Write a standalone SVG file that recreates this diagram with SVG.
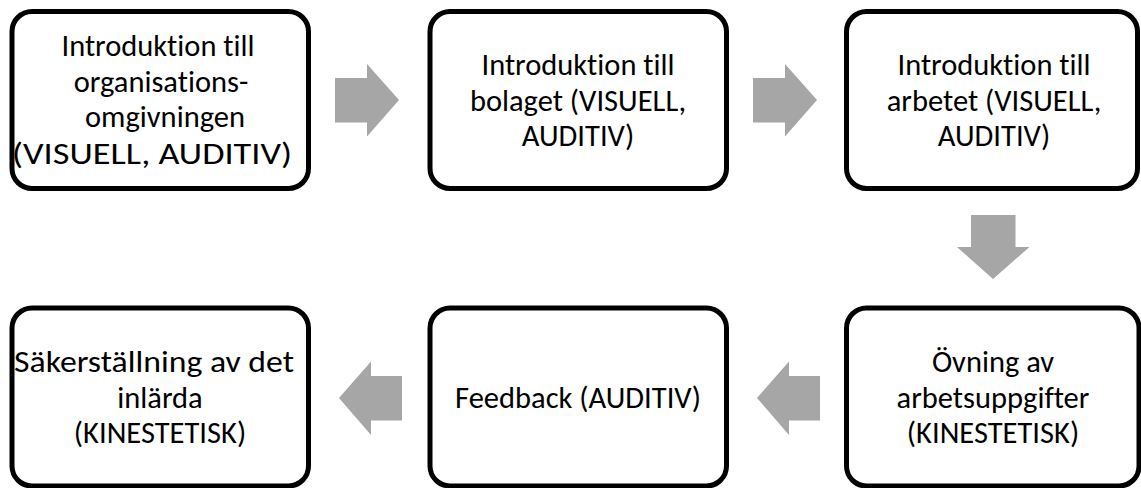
<svg xmlns="http://www.w3.org/2000/svg" width="1141" height="488" viewBox="0 0 1141 488">
<style>
.box{fill:#fff;stroke:#000;stroke-width:5}
.arr{fill:#A6A6A6}
.t{font-family:Carlito,Lato,"Open Sans",sans-serif;font-size:30.5px;fill:#000;text-anchor:middle;font-variant-ligatures:none}
.w{font-size:31px}
</style>
<rect width="1141" height="488" fill="#fff"/>
<g id="connectors">
<polygon class="arr" points="335,78 367,78 367,64 399,100 367,136.5 367,122.5 335,122.5"/>
<polygon class="arr" points="753,78 785,78 785,64 817,100 785,136.5 785,122.5 753,122.5"/>
<polygon class="arr" points="971,215 1015.5,215 1015.5,247 1029.5,247 993,279 957,247 971,247"/>
<polygon class="arr" points="402,376 371,376 371,361.5 339,398 371,435 371,420.5 402,420.5"/>
<polygon class="arr" points="820,376 789,376 789,361.5 757,398 789,435 789,420.5 820,420.5"/>
</g>
<g id="n1">
<rect class="box" x="12" y="11.5" width="296.5" height="177" rx="20"/>
<text class="t" x="158" y="56">Introduktion till</text>
<text class="t" x="161" y="91.5">organisations-</text>
<text class="t" x="165" y="127">omgivningen</text>
<text class="t w" x="152" y="164" textLength="280" lengthAdjust="spacingAndGlyphs">(VISUELL, AUDITIV)</text>
</g>
<g id="n2">
<rect class="box" x="430" y="11.5" width="296.5" height="177" rx="20"/>
<text class="t" x="578" y="75">Introduktion till</text>
<text class="t" x="578" y="110.5">bolaget (VISUELL,</text>
<text class="t" x="578" y="146">AUDITIV)</text>
</g>
<g id="n3">
<rect class="box" x="846.5" y="11.5" width="291" height="177" rx="20"/>
<text class="t" x="994" y="75">Introduktion till</text>
<text class="t" x="994" y="110.5">arbetet (VISUELL,</text>
<text class="t" x="994" y="146">AUDITIV)</text>
</g>
<g id="n4">
<rect class="box" x="846.5" y="308" width="292.5" height="178" rx="20"/>
<text class="t" x="993" y="372">Övning av</text>
<text class="t" x="993" y="407.5">arbetsuppgifter</text>
<text class="t" x="993" y="443">(KINESTETISK)</text>
</g>
<g id="n5">
<rect class="box" x="430" y="308" width="296.5" height="178" rx="20"/>
<text class="t" x="578" y="407.5">Feedback (AUDITIV)</text>
</g>
<g id="n6">
<rect class="box" x="12" y="308" width="296.5" height="178" rx="20"/>
<text class="t w" x="154" y="372" textLength="280" lengthAdjust="spacingAndGlyphs">Säkerställning av det</text>
<text class="t" x="160" y="407.5">inlärda</text>
<text class="t" x="160" y="443">(KINESTETISK)</text>
</g>
</svg>
